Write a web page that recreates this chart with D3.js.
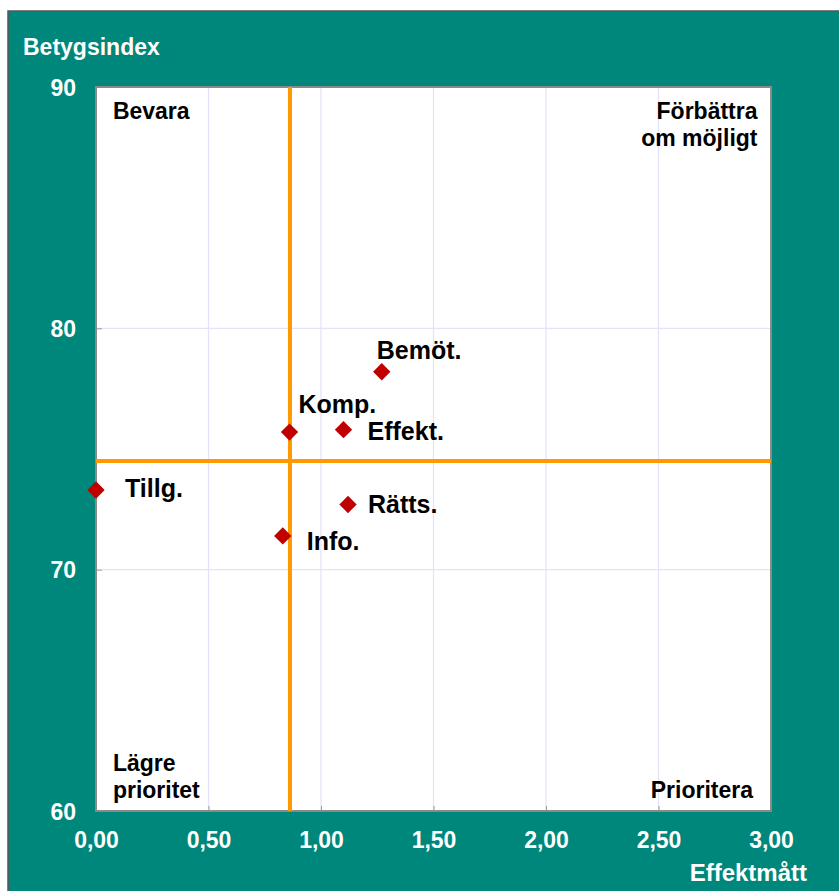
<!DOCTYPE html>
<html><head><meta charset="utf-8">
<script src="https://cdn.jsdelivr.net/npm/d3@7"></script>
<style>
html,body{margin:0;padding:0;background:#fff;}
svg{display:block;font-family:"Liberation Sans",Arial,sans-serif;font-weight:bold;}
</style></head>
<body>
<svg id="chart" width="839" height="891"></svg>
<script>
const names = ["Tillg.", "Bemöt.", "Komp.", "Effekt.", "Rätts.", "Info."];
const effekt = [0.00, 1.27, 0.86, 1.10, 1.12, 0.83];
const betyg = [73.3, 78.2, 75.7, 75.8, 72.7, 71.4];
const labelDx = [29, -5, 9, 24, 20, 24];
const labelDy = [7, -13, -19, 10, 8, 14];
const xTicks = [0, 0.5, 1, 1.5, 2, 2.5, 3];
const yTicks = [60, 70, 80, 90];
const refX = 0.862;
const refY = 74.5;
const quadrants = [
  {lines:["Bevara"], anchor:"start", x:0.075, y:89.5},
  {lines:["Förbättra","om möjligt"], anchor:"end", x:2.94, y:89.5},
  {lines:["Lägre","prioritet"], anchor:"start", x:0.075, y:60.5},
  {lines:["Prioritera"], anchor:"end", x:2.92, y:60.5}
];

const svg = d3.select("#chart");
const L = 96, R = 771, T = 87, B = 811;
const x = d3.scaleLinear().domain([0,3]).range([L,R]);
const y = d3.scaleLinear().domain([60,90]).range([B,T]);
const fmt = d => d3.format(".2f")(d).replace(".", ",");

svg.append("rect").attr("x",8).attr("y",11).attr("width",839).attr("height",891)
  .attr("fill","#00877b").attr("stroke","#555").attr("stroke-width",1.5);

svg.append("rect").attr("x",L).attr("y",T).attr("width",R-L).attr("height",B-T).attr("fill","#fff");

// gridlines
svg.append("g").selectAll("line").data(xTicks.slice(1,-1)).join("line")
  .attr("x1",d=>x(d)).attr("x2",d=>x(d)).attr("y1",T).attr("y2",B)
  .attr("stroke","#e2e2fa").attr("stroke-width",1.2);
svg.append("g").selectAll("line").data(yTicks.slice(1,-1)).join("line")
  .attr("y1",d=>y(d)).attr("y2",d=>y(d)).attr("x1",L).attr("x2",R)
  .attr("stroke","#e2e2fa").attr("stroke-width",1.2);

// axes (inner ticks)
const xAxis = svg.append("g").attr("transform",`translate(0,${B})`)
  .call(d3.axisBottom(x).tickValues(xTicks).tickSize(-5).tickFormat(fmt).tickPadding(37));
const yAxis = svg.append("g").attr("transform",`translate(${L},0)`)
  .call(d3.axisLeft(y).tickValues(yTicks).tickSize(-6).tickFormat(d3.format("d")).tickPadding(20));
[xAxis,yAxis].forEach(a=>{
  a.select(".domain").remove();
  a.selectAll(".tick line").attr("stroke","#999");
  a.selectAll(".tick text").attr("fill","#fff").attr("font-size",23)
    .attr("font-family","Liberation Sans, Arial, sans-serif").attr("font-weight","bold");
});
xAxis.selectAll(".tick text").attr("dy","0");
yAxis.selectAll(".tick text").attr("dy","0.36em");

// plot border
svg.append("rect").attr("x",L).attr("y",T).attr("width",R-L).attr("height",B-T)
  .attr("fill","none").attr("stroke","#8a8a8a").attr("stroke-width",2);

// reference lines
svg.append("line").attr("x1",x(refX)).attr("x2",x(refX)).attr("y1",T).attr("y2",B)
  .attr("stroke","#ff9900").attr("stroke-width",4);
svg.append("line").attr("x1",L).attr("x2",R).attr("y1",y(refY)).attr("y2",y(refY))
  .attr("stroke","#ff9900").attr("stroke-width",4);

// quadrant labels
quadrants.forEach(q=>{
  const t = svg.append("text").attr("text-anchor",q.anchor).attr("font-size",23).attr("fill","#000");
  const n = q.lines.length;
  q.lines.forEach((s,i)=>{
    const base = q.y > 75 ? y(q.y) + 20 + i*27 : y(q.y) - (n-1-i)*27 - 1;
    t.append("tspan").attr("x",x(q.x)).attr("y",base).text(s);
  });
});

// points
const pts = names.map((n,i)=>({n, ex:effekt[i], by:betyg[i], dx:labelDx[i], dy:labelDy[i]}));
svg.append("g").selectAll("path").data(pts).join("path")
  .attr("d", d3.symbol().type(d3.symbolSquare).size(150))
  .attr("transform", d=>`translate(${x(d.ex)},${y(d.by)}) rotate(45)`)
  .attr("fill","#c00000");
svg.append("g").selectAll("text").data(pts).join("text")
  .attr("x", d=>x(d.ex)+d.dx).attr("y", d=>y(d.by)+d.dy)
  .attr("font-size",25).attr("fill","#000").text(d=>d.n);

// axis titles
svg.append("text").attr("x",23).attr("y",55).attr("font-size",23).attr("fill","#fff").text("Betygsindex");
svg.append("text").attr("x",807).attr("y",881).attr("text-anchor","end").attr("font-size",24).attr("fill","#fff").text("Effektmått");
</script>
</body></html>
